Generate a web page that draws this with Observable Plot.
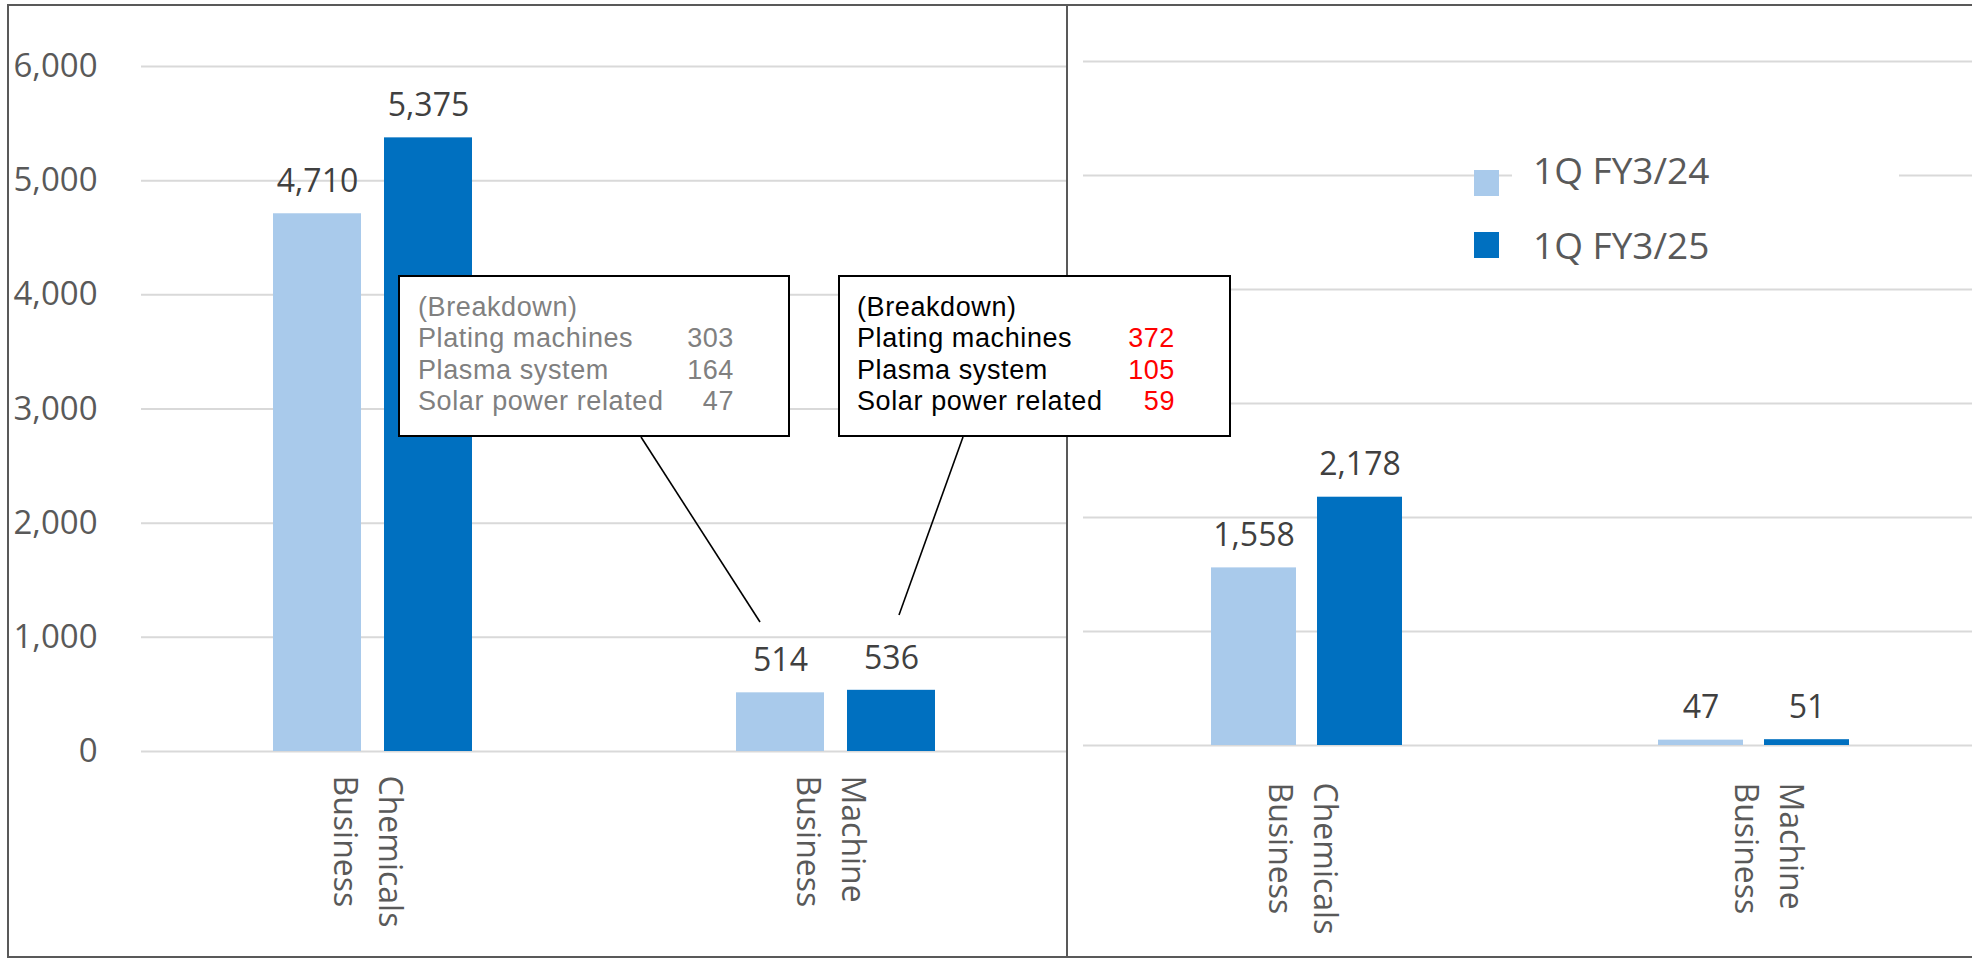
<!DOCTYPE html>
<html>
<head>
<meta charset="utf-8">
<script src="https://cdn.jsdelivr.net/npm/d3@7"></script>
<script src="https://cdn.jsdelivr.net/npm/@observablehq/plot@0.6"></script>
<style>
html, body { margin: 0; padding: 0; background: #fff; }
#stage { position: relative; width: 1972px; height: 958px; overflow: hidden; font-family: "Open Sans", sans-serif; }
.abs { position: absolute; }
.plot-layer { position: absolute; left: 0; top: 0; }
.legend-item { position: absolute; font-size: 37px; line-height: 37px; color: #595959; white-space: nowrap; }
.swatch { position: absolute; width: 25px; height: 26px; }
</style>
</head>
<body>
<div id="stage"></div>
<script>
// ---------- data ----------
const categories = ["Chemicals Business", "Machine Business"];
const seriesNames = ["1Q FY3/24", "1Q FY3/25"];
const salesFY24 = [4710, 514];
const salesFY25 = [5375, 536];
const profitFY24 = [1558, 47];
const profitFY25 = [2178, 51];
const yTicks = [0, 1000, 2000, 3000, 4000, 5000, 6000];
const breakdownItems = ["Plating machines", "Plasma system", "Solar power related"];
const breakdownFY24 = [303, 164, 47];
const breakdownFY25 = [372, 105, 59];
const seriesColors = ["#A9CAEB", "#0070C0"];

const fmt = d3.format(",");
const stage = document.getElementById("stage");

function rowsFor(a, b) {
  return categories.flatMap((c, i) => [
    {category: c, series: seriesNames[0], value: a[i]},
    {category: c, series: seriesNames[1], value: b[i]}
  ]);
}

function panel(o) {
  const light = o.rows.filter(d => d.series === seriesNames[0]);
  const dark = o.rows.filter(d => d.series === seriesNames[1]);
  const labelMarks = categories.map((c, i) =>
    Plot.text([c], {
      x: d => d, text: d => d.replace(" ", "\n"),
      frameAnchor: "bottom", rotate: 90, textAnchor: "start", lineAnchor: "middle",
      lineHeight: 1.4, fontSize: 32, fill: "#595959",
      dx: o.catDx[i], dy: o.catDy
    }));
  return Plot.plot({
    width: o.width, height: 958,
    marginLeft: o.marginLeft, marginRight: 0, marginTop: o.marginTop, marginBottom: o.marginBottom,
    style: {background: "transparent", maxWidth: "none", overflow: "visible", fontFamily: '"Open Sans", sans-serif'},
    x: {domain: categories, paddingInner: o.pin, paddingOuter: o.pin / 2, axis: null},
    y: {domain: [0, 6000], axis: null, label: null},
    color: {domain: seriesNames, range: seriesColors},
    marks: [
      Plot.gridY(yTicks, {stroke: "#D9D9D9", strokeOpacity: 1, strokeWidth: 2}),
      o.showAxis ? Plot.axisY(yTicks, {tickFormat: fmt, tickSize: 0, tickPadding: 44, fontSize: 33, fill: "#595959", label: null}) : null,
      Plot.barY(light, {x: "category", y: "value", fill: "series", insetRight: o.inset}),
      Plot.barY(dark, {x: "category", y: "value", fill: "series", insetLeft: o.inset}),
      Plot.text(light, {x: "category", y: "value", text: d => fmt(d.value), dx: -o.half, dy: -32, fontSize: 32, fill: "#404040"}),
      Plot.text(dark, {x: "category", y: "value", text: d => fmt(d.value), dx: o.half, dy: -32, fontSize: 32, fill: "#404040"}),
      ...labelMarks
    ]
  });
}

// frame
const frame = document.createElement("div");
frame.className = "abs";
Object.assign(frame.style, {left: "7px", top: "4px", width: "1990px", height: "954px", boxSizing: "border-box", border: "2px solid #595959"});
stage.appendChild(frame);

// left panel (sales)
const left = panel({
  rows: rowsFor(salesFY24, salesFY25), width: 1067, marginLeft: 141, marginTop: 66, marginBottom: 207,
  pin: 1 - 199 / 463, inset: 111, half: 55.5, showAxis: true, catDx: [-2.5, -2.5], catDy: 24
});
left.classList.add("plot-layer");
stage.appendChild(left);

// right panel (operating profit)
const right = panel({
  rows: rowsFor(profitFY24, profitFY25), width: 1977, marginLeft: 1083, marginTop: 61, marginBottom: 213,
  pin: 1 - 191 / 447, inset: 106, half: 53, showAxis: false, catDx: [-1.5, 17.5], catDy: 37
});
right.classList.add("plot-layer");
stage.appendChild(right);

// divider
const divider = document.createElement("div");
divider.className = "abs";
Object.assign(divider.style, {left: "1066px", top: "4px", width: "2px", height: "954px", background: "#595959"});
stage.appendChild(divider);

// annotation layer: leader lines + breakdown boxes
const svg = d3.select(stage).append("svg").attr("class", "plot-layer")
  .attr("width", 1972).attr("height", 958)
  .style("font-family", '"Liberation Sans", Arial, sans-serif');
svg.append("line").attr("x1", 641).attr("y1", 437).attr("x2", 760).attr("y2", 622).attr("stroke", "#000").attr("stroke-width", 1.6);
svg.append("line").attr("x1", 963).attr("y1", 437).attr("x2", 899).attr("y2", 615).attr("stroke", "#000").attr("stroke-width", 1.6);

function box(x, w, textX, numX, values, labelColor, numColor) {
  const g = svg.append("g").attr("font-size", 27).attr("letter-spacing", "0.6px");
  g.append("rect").attr("x", x + 1).attr("y", 276).attr("width", w - 2).attr("height", 160)
    .attr("fill", "#fff").attr("stroke", "#000").attr("stroke-width", 2);
  const base = 316, step = 31.3;
  g.append("text").attr("x", textX).attr("y", base).attr("fill", labelColor).text("(Breakdown)");
  breakdownItems.forEach((name, i) => {
    const y = base + step * (i + 1);
    g.append("text").attr("x", textX).attr("y", y).attr("fill", labelColor).text(name);
    g.append("text").attr("x", numX).attr("y", y).attr("fill", numColor)
      .attr("text-anchor", "end").text(values[i]);
  });
}
box(398, 392, 418, 734, breakdownFY24, "#808080", "#808080");
box(838, 393, 857, 1175, breakdownFY25, "#000000", "#FF0000");

// legend
const lbg = document.createElement("div");
lbg.className = "abs";
Object.assign(lbg.style, {left: "1512px", top: "145px", width: "387px", height: "130px", background: "#fff"});
stage.appendChild(lbg);
seriesNames.forEach((name, i) => {
  const sw = document.createElement("div");
  sw.className = "swatch";
  Object.assign(sw.style, {left: "1474px", top: (i ? 232 : 170) + "px", background: seriesColors[i]});
  stage.appendChild(sw);
  const t = document.createElement("div");
  t.className = "legend-item";
  Object.assign(t.style, {left: "1533px", top: (i ? 226 : 151) + "px"});
  t.textContent = name;
  stage.appendChild(t);
});
</script>
</body>
</html>
